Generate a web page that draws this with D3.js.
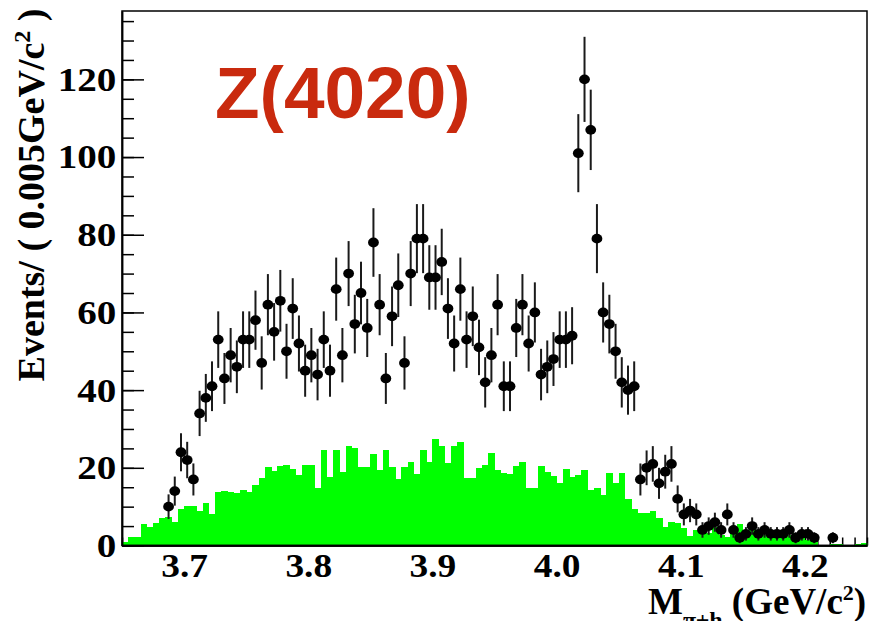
<!DOCTYPE html>
<html>
<head>
<meta charset="utf-8">
<script src="https://cdn.jsdelivr.net/npm/d3@7"></script>
<style>
    body { margin: 0; background: #fff; }
    svg { display: block; }
    .axis text { font-family: "Liberation Serif", "Times New Roman", serif; font-weight: bold; font-size: 34px; fill: #000; }
    .axis path, .axis line { stroke: #000; stroke-width: 1.5; }
    .axis-title { font-family: "Liberation Serif", "Times New Roman", serif; font-weight: bold; fill: #000; }
    .frame { fill: none; stroke: #000; stroke-width: 1.5; }
    .bkg { fill: #00ff00; shape-rendering: crispEdges; }
    .err { stroke: #1a1a1a; stroke-width: 2; }
    .dot { fill: #000; }
    .label-z { font-family: "Liberation Sans", Arial, sans-serif; font-weight: bold; font-size: 73px; fill: #c92a0e; }
</style>
</head>
<body>
<div id="chart-area"></div>
<script>

// DATA: 120 bins of 0.005 GeV/c^2 from 3.65 to 4.25
var binLow = 3.65,
    binWidth = 0.005;

// green histogram (background)
var bkgCounts = [
    1.0, 2.1, 2.1, 5.6, 4.8, 5.8, 7.2, 7.4, 6.1, 9.3,
    10.2, 10.2, 8.8, 11.0, 8.0, 13.9, 14.0, 13.8, 13.6, 14.2,
    13.8, 15.6, 17.4, 20.1, 19.3, 20.5, 20.8, 19.8, 18.2, 20.6,
    20.6, 14.7, 24.7, 17.6, 24.7, 18.9, 25.6, 25.2, 20.2, 20.2,
    23.5, 19.4, 24.7, 20.1, 17.0, 20.1, 21.6, 18.4, 24.7, 21.6,
    27.4, 25.6, 21.3, 25.6, 26.6, 17.5, 17.5, 19.9, 20.7, 23.9,
    19.4, 18.7, 18.4, 20.5, 21.6, 14.7, 14.7, 20.5, 19.0, 17.9,
    16.2, 19.7, 17.7, 18.1, 19.4, 14.3, 14.7, 13.0, 18.7, 16.1,
    18.7, 12.0, 9.4, 8.4, 8.4, 8.8, 7.0, 4.8, 6.0, 5.8,
    4.4, 2.4, 4.0, 4.0, 3.1, 4.8, 2.7, 2.1, 3.1, 5.5,
    3.1, 4.2, 2.7, 2.7, 2.1, 2.1, 2.7, 2.7, 3.1, 2.1,
    1.4, 1.0, 0, 0, 0.4, 0.4, 0, 0, 0.4, 0.6
];

// data points (null = no marker drawn)
var dataCounts = [
    null, null, null, null, null, null, null, 10, 14, 24,
    22, 17, 34, 38, 41, 53, 43, 49, 46, 53,
    53, 58, 47, 62, 55, 63, 50, 61, 52, 45,
    49, 44, 53, 45, 66, 49, 70, 57, 65, 56,
    78, 62, 43, 59, 67, 47, 70, 79, 79, 69,
    69, 73, 61, 52, 66, 53, 59, 51, 42, 49,
    62, 41, 41, 56, 62, 52, 60, 44, 46, 48,
    53, 53, 54, 101, 120, 107, 79, 60, 57, 50,
    42, 40, 41, 17, 20, 21, 16, 19, 21, 12,
    8, 9, 8, 4, 5, 6, 4, 8, 4, 2,
    3, 5, 3, 4, 3, 3, 3, 4, 2, 3,
    3, 2, null, null, 2, null, null, null, null, null
];

var xMajorTicks = [3.7, 3.8, 3.9, 4.0, 4.1, 4.2];
var yMajorTicks = [0, 20, 40, 60, 80, 100, 120];

// SVG drawing area
var margin = {top: 11, right: 3, bottom: 75.5, left: 122};

var width = 870 - margin.left - margin.right,
    height = 621 - margin.top - margin.bottom;

var svg = d3.select("#chart-area").append("svg")
    .attr("width", width + margin.left + margin.right)
    .attr("height", height + margin.top + margin.bottom)
    .append("g")
    .attr("transform", "translate(" + margin.left + "," + margin.top + ")");

//SCALES
var x = d3.scaleLinear()
    .domain([3.65, 4.25])
    .range([0, width]);

var y = d3.scaleLinear()
    .domain([0, 137.6])
    .range([height, 0]);

var bins = bkgCounts.map(function(v, i) {
    return {x0: binLow + i * binWidth, x1: binLow + (i + 1) * binWidth, bkg: v, n: dataCounts[i]};
});

//X AXIS (ticks sit under the histogram)
svg.append("g")
    .attr("class", "axis x-minor")
    .attr("transform", "translate(0," + height + ")")
    .call(d3.axisBottom(x).tickValues(d3.range(3.65, 4.2501, 0.01)).tickSize(-8).tickSizeOuter(0).tickFormat(""));

svg.append("g")
    .attr("class", "axis x-axis")
    .attr("transform", "translate(0," + height + ")")
    .call(d3.axisBottom(x).tickValues(xMajorTicks).tickSize(-16).tickSizeOuter(0).tickPadding(7)
        .tickFormat(d3.format(".1f")));

// the original labels are a bit wider than the font
svg.selectAll(".x-axis text").attr("transform", "scale(1.1,1)");

//HISTOGRAM
svg.selectAll(".bkg")
    .data(bins)
    .enter().append("rect")
    .attr("class", "bkg")
    .attr("x", function(d) { return x(d.x0); })
    .attr("width", function(d) { return x(d.x1) - x(d.x0) + 0.5; })
    .attr("y", function(d) { return y(d.bkg); })
    .attr("height", function(d) { return height - y(d.bkg); });

svg.append("line")
    .attr("x1", 0).attr("x2", width)
    .attr("y1", height).attr("y2", height)
    .attr("stroke", "#000").attr("stroke-width", 1.5);

//DATA POINTS with sqrt(N) errors
var pts = bins.filter(function(d) { return d.n !== null; });

svg.selectAll(".err-v")
    .data(pts)
    .enter().append("line")
    .attr("class", "err err-v")
    .attr("x1", function(d) { return x(d.x0 + binWidth / 2); })
    .attr("x2", function(d) { return x(d.x0 + binWidth / 2); })
    .attr("y1", function(d) { return y(d.n + Math.sqrt(d.n)); })
    .attr("y2", function(d) { return y(Math.max(0, d.n - Math.sqrt(d.n))); });

svg.selectAll(".err-h")
    .data(pts)
    .enter().append("line")
    .attr("class", "err err-h")
    .attr("x1", function(d) { return x(d.x0); })
    .attr("x2", function(d) { return x(d.x1); })
    .attr("y1", function(d) { return y(d.n); })
    .attr("y2", function(d) { return y(d.n); });

svg.selectAll(".dot")
    .data(pts)
    .enter().append("ellipse")
    .attr("class", "dot")
    .attr("cx", function(d) { return x(d.x0 + binWidth / 2); })
    .attr("cy", function(d) { return y(d.n); })
    .attr("rx", 5.4)
    .attr("ry", 4.9);

//Y AXIS
svg.append("g")
    .attr("class", "axis y-minor")
    .call(d3.axisLeft(y).tickValues(d3.range(0, 136, 5)).tickSize(-12).tickSizeOuter(0).tickFormat(""));

svg.append("g")
    .attr("class", "axis y-axis")
    .call(d3.axisLeft(y).tickValues(yMajorTicks).tickSize(-22).tickSizeOuter(0).tickPadding(5));

svg.select(".y-axis path").attr("stroke-width", 2);
svg.selectAll(".y-axis text").attr("transform", "scale(1.15,1)");

//FRAME
svg.append("rect")
    .attr("class", "frame")
    .attr("width", width)
    .attr("height", height);

//TITLES
svg.append("text")
    .attr("class", "axis-title")
    .attr("transform", "translate(" + (44 - margin.left) + "," + (195 - margin.top) + ") rotate(-90)")
    .style("text-anchor", "middle")
    .style("font-size", "38px")
    .html("Events/ ( 0.005GeV/c<tspan dy='-14' font-size='24px'>2</tspan><tspan dy='14'> )</tspan>");

svg.append("text")
    .attr("class", "axis-title")
    .attr("x", 648 - margin.left)
    .attr("y", 614 - margin.top)
    .style("font-size", "37px")
    .html("M<tspan dy='14' font-size='24px'>π±h</tspan><tspan dy='-14'> (GeV/c</tspan><tspan dy='-14' font-size='22px'>2</tspan><tspan dy='14'>)</tspan>");

svg.append("text")
    .attr("class", "label-z")
    .attr("x", 215 - margin.left)
    .attr("y", 118 - margin.top)
    .text("Z(4020)");

</script>
</body>
</html>
